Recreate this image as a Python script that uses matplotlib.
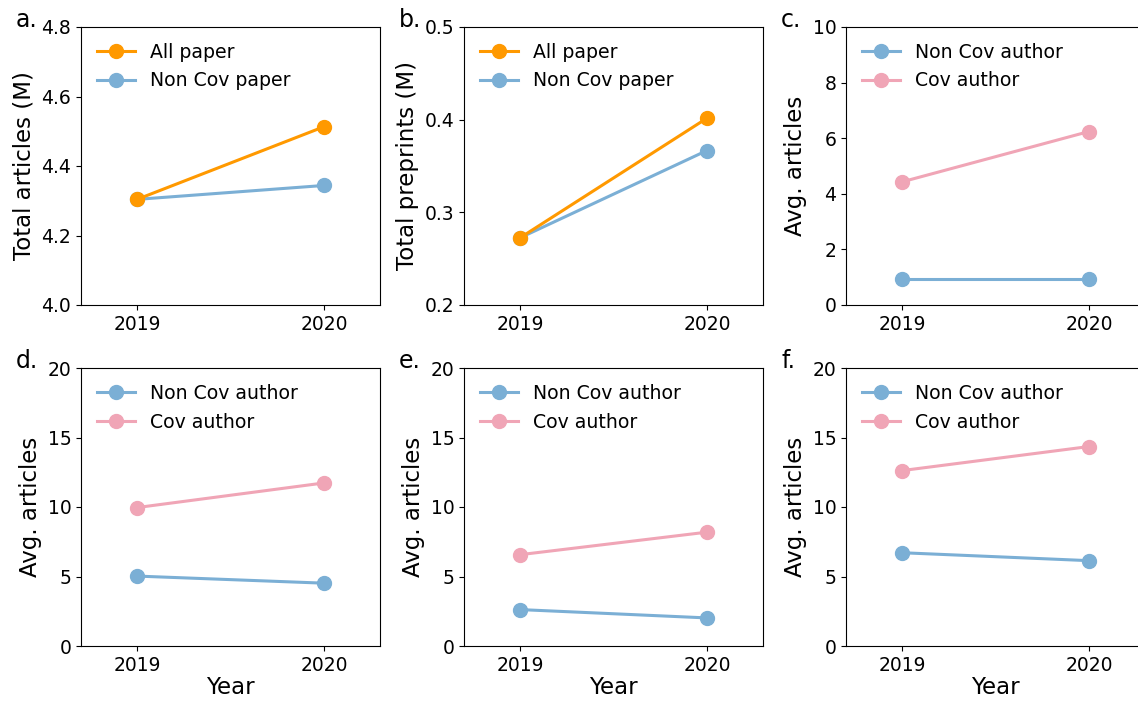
import matplotlib
matplotlib.use("Agg")
import matplotlib.pyplot as plt

years = [2019, 2020]

# Panel a: total articles (millions)
articles_all = [4.304, 4.513]
articles_noncov = [4.304, 4.344]

# Panel b: total preprints (millions)
preprints_all = [0.2725, 0.4016]
preprints_noncov = [0.2725, 0.3667]

# Panels c-f: average articles per author
avg_c_noncov = [0.92, 0.92]
avg_c_cov = [4.43, 6.24]
avg_d_noncov = [5.03, 4.52]
avg_d_cov = [9.96, 11.73]
avg_e_noncov = [2.62, 2.02]
avg_e_cov = [6.57, 8.19]
avg_f_noncov = [6.71, 6.14]
avg_f_cov = [12.62, 14.35]

ORANGE = "#ff9900"
BLUE = "#7bafd5"
PINK = "#f0a5b6"

W, H = 1138, 701
fig = plt.figure(figsize=(W / 100, H / 100), dpi=100)

ax_w, ax_h = 299, 278
lefts = [81, 464, 846]
tops = [27, 368]


def make_ax(col, row):
    l = lefts[col]
    t = tops[row]
    return fig.add_axes([l / W, 1 - (t + ax_h) / H, ax_w / W, ax_h / H])


panels = [
    dict(letter="a.", series=[(articles_all, ORANGE, "All paper"), (articles_noncov, BLUE, "Non Cov paper")],
         ylim=(4.0, 4.8), yticks=[4.0, 4.2, 4.4, 4.6, 4.8], ylabel="Total articles (M)", fmt="{:.1f}",
         zorder_first=True),
    dict(letter="b.", series=[(preprints_all, ORANGE, "All paper"), (preprints_noncov, BLUE, "Non Cov paper")],
         ylim=(0.2, 0.5), yticks=[0.2, 0.3, 0.4, 0.5], ylabel="Total preprints (M)", fmt="{:.1f}",
         zorder_first=True),
    dict(letter="c.", series=[(avg_c_noncov, BLUE, "Non Cov author"), (avg_c_cov, PINK, "Cov author")],
         ylim=(0, 10), yticks=[0, 2, 4, 6, 8, 10], ylabel="Avg. articles", fmt="{:d}"),
    dict(letter="d.", series=[(avg_d_noncov, BLUE, "Non Cov author"), (avg_d_cov, PINK, "Cov author")],
         ylim=(0, 20), yticks=[0, 5, 10, 15, 20], ylabel="Avg. articles", fmt="{:d}"),
    dict(letter="e.", series=[(avg_e_noncov, BLUE, "Non Cov author"), (avg_e_cov, PINK, "Cov author")],
         ylim=(0, 20), yticks=[0, 5, 10, 15, 20], ylabel="Avg. articles", fmt="{:d}"),
    dict(letter="f.", series=[(avg_f_noncov, BLUE, "Non Cov author"), (avg_f_cov, PINK, "Cov author")],
         ylim=(0, 20), yticks=[0, 5, 10, 15, 20], ylabel="Avg. articles", fmt="{:d}"),
]

for i, p in enumerate(panels):
    row, col = divmod(i, 3)
    ax = make_ax(col, row)
    n = len(p["series"])
    for k, (vals, color, label) in enumerate(p["series"]):
        z = (n - k + 2) if p.get("zorder_first") else (k + 2)
        ax.plot(years, vals, "-o", color=color, lw=2.2, ms=10, label=label, zorder=z)
    ax.set_xlim(2018.7, 2020.3)
    ax.set_xticks(years)
    ax.set_xticklabels([str(y) for y in years])
    ax.set_ylim(*p["ylim"])
    ax.set_yticks(p["yticks"])
    if p["fmt"] == "{:d}":
        ax.set_yticklabels([str(int(v)) for v in p["yticks"]])
    else:
        ax.set_yticklabels([p["fmt"].format(v) for v in p["yticks"]])
    ax.tick_params(labelsize=13.5)
    ax.set_ylabel(p["ylabel"], fontsize=16.5)
    if row == 1:
        ax.set_xlabel("Year", fontsize=16.5, labelpad=1)
    ax.legend(loc="upper left", fontsize=13.6, frameon=False, handlelength=2.0,
              borderaxespad=0.45, handletextpad=0.8, labelspacing=0.5)
    ax.text(-0.217, 1.0, p["letter"], transform=ax.transAxes, fontsize=17,
            ha="left", va="baseline")

fig.savefig("out.png", dpi=100)
